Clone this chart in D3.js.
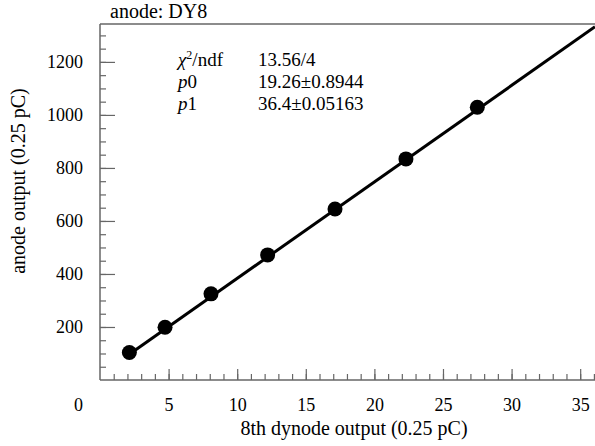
<!DOCTYPE html>
<html>
<head>
<meta charset="utf-8">
<script src="https://cdn.jsdelivr.net/npm/d3@7"></script>
<style>
  body { margin: 0; background: #fff; }
  text { font-family: "Liberation Serif", "Times New Roman", serif; }
</style>
</head>
<body>
<div id="chart"></div>
<script>
// measured points: 8th dynode output vs anode output
const dynode = [2.14, 4.74, 8.09, 12.22, 17.13, 22.30, 27.50];
const anode = [104, 199, 325, 472, 645, 834, 1029];
// linear fit result
const fitP0 = 19.26;
const fitP1 = 36.4;
const statNames = ["χ²/ndf", "p0", "p1"];
const statValues = ["13.56/4", "19.26±0.8944", "36.4±0.05163"];
const xTicks = [0, 5, 10, 15, 20, 25, 30, 35];
const yTicks = [200, 400, 600, 800, 1000, 1200];

var width = 595, height = 446;
var margin = { top: 24, right: 0, bottom: 66, left: 100 };

var svg = d3.select("#chart").append("svg")
  .attr("width", width)
  .attr("height", height);

var x = d3.scaleLinear()
  .domain([0, 36.08])
  .range([margin.left, width - margin.right]);
var y = d3.scaleLinear()
  .domain([0, 1343])
  .range([height - margin.bottom, margin.top]);

var axisColor = "#666";

// frame lines (left, bottom, top)
svg.append("line").attr("x1", x(0)).attr("x2", x(0)).attr("y1", y(0)).attr("y2", y(1343))
  .attr("stroke", axisColor).attr("stroke-width", 1.5);
svg.append("line").attr("x1", x(0)).attr("x2", width).attr("y1", y(0)).attr("y2", y(0))
  .attr("stroke", axisColor).attr("stroke-width", 1.5);
svg.append("line").attr("x1", x(0)).attr("x2", width).attr("y1", y(1343)).attr("y2", y(1343))
  .attr("stroke", axisColor).attr("stroke-width", 1.5);

// x minor ticks
svg.append("g")
  .attr("transform", "translate(0," + y(0) + ")")
  .call(d3.axisTop(x).tickValues(d3.range(1, 37)).tickSize(6).tickFormat(""))
  .call(g => g.select(".domain").remove())
  .call(g => g.selectAll("line").attr("stroke", axisColor).attr("stroke-width", 1.2));
// x major ticks
svg.append("g")
  .attr("transform", "translate(0," + y(0) + ")")
  .call(d3.axisTop(x).tickValues(xTicks.slice(1)).tickSize(11).tickFormat(""))
  .call(g => g.select(".domain").remove())
  .call(g => g.selectAll("line").attr("stroke", axisColor).attr("stroke-width", 1.2));
// x labels
svg.append("g")
  .attr("transform", "translate(0," + y(0) + ")")
  .call(d3.axisBottom(x).tickValues(xTicks).tickSize(0).tickPadding(18).tickFormat(d3.format("d")))
  .call(g => g.select(".domain").remove())
  .call(g => g.selectAll("text").attr("font-size", 18).attr("fill", "#000")
    .attr("font-family", "Liberation Serif")
    .attr("dx", d => d === 0 ? -22 : 0));

// y minor ticks
svg.append("g")
  .attr("transform", "translate(" + x(0) + ",0)")
  .call(d3.axisRight(y).tickValues(d3.range(50, 1301, 50)).tickSize(6).tickFormat(""))
  .call(g => g.select(".domain").remove())
  .call(g => g.selectAll("line").attr("stroke", axisColor).attr("stroke-width", 1.2));
// y major ticks
svg.append("g")
  .attr("transform", "translate(" + x(0) + ",0)")
  .call(d3.axisRight(y).tickValues(yTicks).tickSize(15).tickFormat(""))
  .call(g => g.select(".domain").remove())
  .call(g => g.selectAll("line").attr("stroke", axisColor).attr("stroke-width", 1.2));
// y labels
svg.append("g")
  .attr("transform", "translate(" + x(0) + ",0)")
  .call(d3.axisLeft(y).tickValues(yTicks).tickSize(0).tickPadding(17).tickFormat(d3.format("d")))
  .call(g => g.select(".domain").remove())
  .call(g => g.selectAll("text").attr("font-size", 18).attr("fill", "#000")
    .attr("font-family", "Liberation Serif"));

// axis titles
svg.append("text")
  .attr("x", 354).attr("y", 435)
  .attr("text-anchor", "middle")
  .attr("font-size", 20)
  .text("8th dynode output (0.25 pC)");
svg.append("text")
  .attr("transform", "translate(25," + 181 + ") rotate(-90)")
  .attr("text-anchor", "middle")
  .attr("font-size", 20)
  .text("anode output (0.25 pC)");

// title
svg.append("text")
  .attr("x", 110).attr("y", 18)
  .attr("font-size", 20)
  .text("anode: DY8");

// fit line, clipped to frame
svg.append("clipPath").attr("id", "clip")
  .append("rect").attr("x", x(0)).attr("y", y(1343))
  .attr("width", width - x(0)).attr("height", y(0) - y(1343));
var fitX = [dynode[0], 36.08];
svg.append("path")
  .datum(fitX)
  .attr("clip-path", "url(#clip)")
  .attr("fill", "none")
  .attr("stroke", "#000")
  .attr("stroke-width", 3)
  .attr("d", d3.line().x(d => x(d)).y(d => y(fitP0 + fitP1 * d)));

// data points
svg.selectAll(".pt")
  .data(dynode)
  .enter()
  .append("circle")
  .attr("class", "pt")
  .attr("cx", d => x(d))
  .attr("cy", (d, i) => y(anode[i]))
  .attr("r", 7.5)
  .attr("fill", "#000");

// stats box
var stats = svg.append("g").attr("font-size", 19);
statNames.forEach((name, i) => {
  var t = stats.append("text")
    .attr("x", 178).attr("y", 66 + i * 22);
  if (i === 0) {
    t.append("tspan").attr("font-style", "italic").text("χ");
    t.append("tspan").attr("font-size", 12).attr("dy", -7).text("2");
    t.append("tspan").attr("dy", 7).text("/ndf");
  } else {
    t.append("tspan").attr("font-style", "italic").text("p");
    t.append("tspan").text(name.slice(1));
  }
  stats.append("text")
    .attr("x", 258).attr("y", 66 + i * 22)
    .text(statValues[i]);
});
</script>
</body>
</html>
